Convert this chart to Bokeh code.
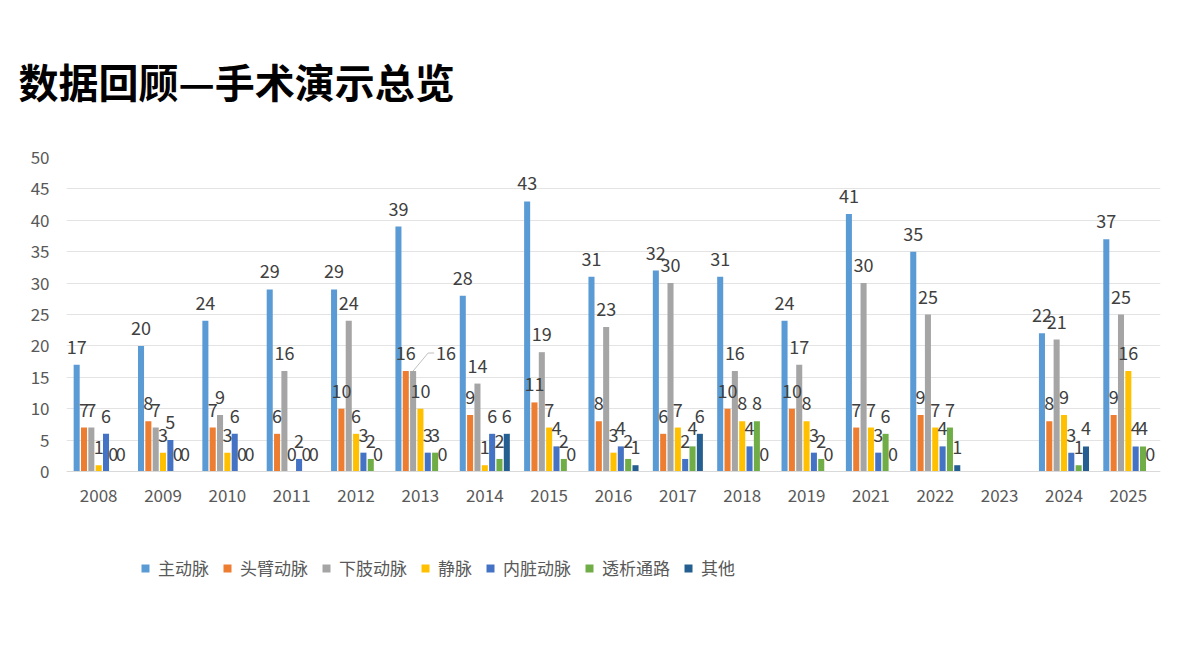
import math
from bokeh.plotting import figure
from bokeh.models import (ColumnDataSource, FactorRange, Legend, LegendItem,
                          Range1d, FixedTicker)
from bokeh.transform import dodge
from bokeh.core.properties import value
from bokeh.embed import file_html
from bokeh.resources import INLINE

NaN = float("nan")

years = ["2008", "2009", "2010", "2011", "2012", "2013", "2014", "2015", "2016",
         "2017", "2018", "2019", "2021", "2022", "2023", "2024", "2025"]
series_names = ["主动脉", "头臂动脉", "下肢动脉", "静脉", "内脏动脉", "透析通路", "其他"]
aorta           = [17, 20, 24, 29, 29, 39, 28, 43, 31, 32, 31, 24, 41, 35, NaN, 22, 37]
brachiocephalic = [7, 8, 7, 6, 10, 16, 9, 11, 8, 6, 10, 10, 7, 9, NaN, 8, 9]
lower_limb      = [7, 7, 9, 16, 24, 16, 14, 19, 23, 30, 16, 17, 30, 25, NaN, 21, 25]
vein            = [1, 3, 3, 0, 6, 10, 1, 7, 3, 7, 8, 8, 7, 7, NaN, 9, 16]
visceral        = [6, 5, 6, 2, 3, 3, 6, 4, 4, 2, 4, 3, 3, 4, NaN, 3, 4]
dialysis        = [0, 0, 0, 0, 2, 3, 2, 2, 2, 4, 8, 2, 6, 7, NaN, 1, 4]
other           = [0, 0, 0, 0, 0, 0, 6, 0, 1, 6, 0, 0, 0, 1, NaN, 4, 0]
y_ticks = [0, 5, 10, 15, 20, 25, 30, 35, 40, 45, 50]
title_text = "数据回顾—手术演示总览"

series_values = [aorta, brachiocephalic, lower_limb, vein, visceral, dialysis, other]
colors = ["#5B9BD5", "#ED7D31", "#A5A5A5", "#FFC000", "#4472C4", "#70AD47", "#255E91"]

FONT = "Noto Sans CJK SC"

# layout (pixels): plot frame spans y=157..600 so the legend can sit inside it;
# value 0 lies at y=471, value 50 at y=157
FRAME_TOP, ZERO_Y, FRAME_BOTTOM = 157, 471, 600
px_y = 50.0 / (ZERO_Y - FRAME_TOP)          # data units per pixel
y_start = -(FRAME_BOTTOM - ZERO_Y) * px_y

p = figure(width=1179, height=651, output_backend="svg", toolbar_location=None,
           x_range=FactorRange(*years, range_padding=0), y_range=Range1d(y_start, 50),
           min_border_left=66, min_border_right=19, min_border_top=FRAME_TOP,
           min_border_bottom=651 - FRAME_BOTTOM)
p.outline_line_color = None
p.background_fill_color = "white"
p.border_fill_color = "white"

def fmt(v):
    return "" if (isinstance(v, float) and math.isnan(v)) else str(int(v))

moved_year = years.index("2013")   # label moved aside with a leader line in the original
data = {"year": years}
for i, vals in enumerate(series_values):
    data[f"s{i}"] = vals
    labels = [fmt(v) for v in vals]
    if i == 2:
        labels[moved_year] = ""
    data[f"t{i}"] = labels
src = ColumnDataSource(data)

pitch = 0.114
bw = 0.094
renderers = []
for i in range(7):
    off = (i - 3) * pitch
    r = p.vbar(x=dodge("year", off, range=p.x_range), top=f"s{i}", bottom=0, width=bw,
               source=src, fill_color=colors[i], line_color=None)
    renderers.append(r)

for i in range(7):
    off = (i - 3) * pitch
    p.text(x=dodge("year", off, range=p.x_range), y=f"s{i}", text=f"t{i}", source=src,
           text_align="center", text_baseline="bottom", y_offset=-11,
           text_font=value(FONT), text_font_size="18px", text_color="#404040")

# moved label (2013, 下肢动脉) with a leader line
px_x = 1.0 / 64.35   # category units per pixel
gx = (2 - 3) * pitch
mv_val = lower_limb[moved_year]
mv = ColumnDataSource({"year": [years[moved_year]],
                       "y0": [mv_val],
                       "y1": [mv_val + 18 * px_y],
                       "t": [fmt(mv_val)]})
p.segment(x0=dodge("year", gx, range=p.x_range), y0="y0",
          x1=dodge("year", gx + 15 * px_x, range=p.x_range), y1="y1",
          source=mv, line_color="#bfbfbf", line_width=1)
p.segment(x0=dodge("year", gx + 15 * px_x, range=p.x_range), y0="y1",
          x1=dodge("year", gx + 21 * px_x, range=p.x_range), y1="y1",
          source=mv, line_color="#bfbfbf", line_width=1)
p.text(x=dodge("year", gx + 23 * px_x, range=p.x_range), y="y1", text="t", source=mv,
       text_align="left", text_baseline="middle",
       text_font=value(FONT), text_font_size="18px", text_color="#404040")

# axes
p.yaxis.ticker = FixedTicker(ticks=y_ticks)
p.yaxis.axis_line_color = None
p.yaxis.major_tick_line_color = None
p.yaxis.minor_tick_line_color = None
p.yaxis.major_label_text_font = FONT
p.yaxis.major_label_text_font_size = "17px"
p.yaxis.major_label_text_color = "#595959"
p.yaxis.major_label_standoff = 11

p.xaxis.fixed_location = 0
p.xaxis.axis_line_color = "#d9d9d9"
p.xaxis.major_tick_line_color = None
p.xaxis.minor_tick_line_color = None
p.xaxis.major_label_text_font = FONT
p.xaxis.major_label_text_font_size = "17px"
p.xaxis.major_label_text_color = "#595959"
p.xaxis.major_label_standoff = 11

p.xgrid.grid_line_color = None
p.ygrid.grid_line_color = "#e3e3e3"

legend = Legend(items=[LegendItem(label=n, renderers=[r]) for n, r in zip(series_names, renderers)],
                orientation="horizontal", location=(74, 20),
                border_line_color=None, background_fill_alpha=0,
                label_text_font=FONT, label_text_font_size="17px", label_text_color="#595959",
                glyph_width=10, glyph_height=10, label_standoff=8, spacing=13,
                padding=0, margin=0)
p.add_layout(legend, "center")

p.title.text = title_text
p.title.align = "left"
p.title.offset = -48
p.title.standoff = 96
p.title.vertical_align = "bottom"
p.title.text_font = FONT
p.title.text_font_size = "40px"
p.title.text_font_style = "bold"
p.title.text_color = "black"

open("out.html", "w").write(file_html(p, INLINE))
